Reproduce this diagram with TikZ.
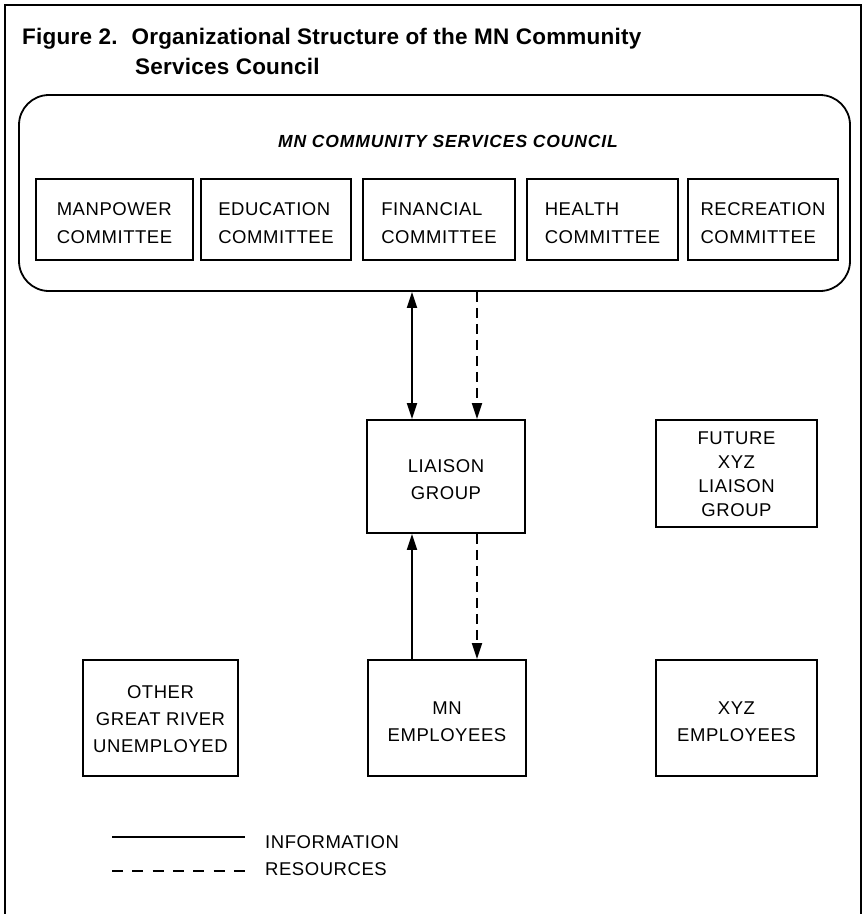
\documentclass[tikz,border=0pt]{standalone}
\usepackage{fontspec}
\setmainfont{Liberation Sans}
\newfontfamily\boxfamily[LetterSpace=3]{Liberation Sans}
\newfontfamily\headfamily[LetterSpace=1]{Liberation Sans}
\newfontfamily\councilfamily[LetterSpace=5]{Liberation Sans}
\usetikzlibrary{arrows.meta}

\begin{document}
\begin{tikzpicture}[x=1pt,y=-1pt,
  >={Triangle[length=16pt,width=10pt]},
  frame/.style={line width=1.6pt},
  unit/.style={draw, line width=1.8pt, inner sep=0pt, align=center, text height=48pt,
    font=\boxfamily\fontsize{18.5}{27}\selectfont},
  committee/.style={unit, minimum height=81pt, align=left, text height=48pt,
    font=\boxfamily\fontsize{18.5}{28}\selectfont},
  heading/.style={inner sep=0pt, anchor=base west,
    font=\headfamily\bfseries\fontsize{22.5}{26}\selectfont},
  councillabel/.style={inner sep=0pt, anchor=base,
    font=\councilfamily\bfseries\itshape\fontsize{17.5}{20}\selectfont},
  legendtext/.style={inner sep=0pt, anchor=base west,
    font=\boxfamily\fontsize{18.5}{20}\selectfont},
  info/.style={line width=1.8pt},
  res/.style={line width=1.8pt, dash pattern=on 10pt off 6pt},
  legendres/.style={line width=1.8pt, dash pattern=on 11pt off 9.3pt}
]
\useasboundingbox (0,0) rectangle (863,914);

% page frame (open at the bottom)
\draw[frame] (5,914) -- (5,5) -- (861,5) -- (861,914);

% heading
\node[heading] (head1) at (22,44) {Figure 2.\hspace{14pt}Organizational Structure of the MN Community};
\node[heading] (head2) at (135,74) {Services Council};

% council and its committees
\node[draw, line width=1.8pt, rounded corners=30pt, minimum width=831pt,
      minimum height=196pt, inner sep=0pt] (council) at (434.5,193) {};
\node[councillabel] (councilname) at (448,147) {MN COMMUNITY SERVICES COUNCIL};

\node[committee, minimum width=157pt] (manpower)   at (114.5,219.5) {MANPOWER\\COMMITTEE};
\node[committee, minimum width=150pt] (education)  at (276,219.5)   {EDUCATION\\COMMITTEE};
\node[committee, minimum width=152pt] (financial)  at (439,219.5)   {FINANCIAL\\COMMITTEE};
\node[committee, minimum width=151pt] (health)     at (602.5,219.5) {HEALTH\\COMMITTEE};
\node[committee, minimum width=150pt] (recreation) at (763,219.5)   {RECREATION\\COMMITTEE};

% liaison groups
\node[unit, minimum width=158pt, minimum height=113pt, text height=47pt] (liaison) at (446,476.5) {LIAISON\\GROUP};
\node[unit, minimum width=161pt, minimum height=107pt, text height=86pt,
      font=\boxfamily\fontsize{18.5}{24}\selectfont] (future) at (736.5,473.5)
      {FUTURE\\XYZ\\LIAISON\\GROUP};

% employee groups
\node[unit, minimum width=155pt, minimum height=116pt, text height=69pt] (other) at (160.5,718) {OTHER\\GREAT RIVER\\UNEMPLOYED};
\node[unit, minimum width=158pt, minimum height=116pt] (mn)    at (447,718)   {MN\\EMPLOYEES};
\node[unit, minimum width=161pt, minimum height=116pt] (xyz)   at (736.5,718) {XYZ\\EMPLOYEES};

% flows
\coordinate (colinfo) at (412,0);
\coordinate (colres)  at (477,0);
\draw[info, <->] (council.south -| colinfo) -- (liaison.north -| colinfo);
\draw[res, ->]   (council.south -| colres)  -- (liaison.north -| colres);
\draw[info, ->]  (mn.north -| colinfo) -- (liaison.south -| colinfo);
\draw[res, ->]   (liaison.south -| colres) -- (mn.north -| colres);

% legend
\coordinate (infoA) at (112,837);
\coordinate (infoB) at (245,837);
\coordinate (resA)  at (112,871);
\coordinate (resB)  at (245,871);
\draw[info] (infoA) -- (infoB);
\draw[legendres] (resA) -- (resB);
\node[legendtext] (infolabel) at (265,848) {INFORMATION};
\node[legendtext] (reslabel)  at (265,875) {RESOURCES};
\end{tikzpicture}
\end{document}
